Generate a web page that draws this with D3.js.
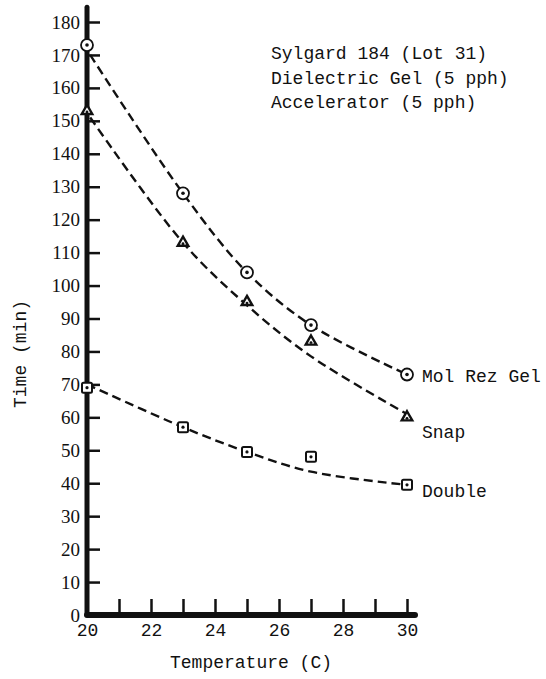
<!DOCTYPE html>
<html>
<head>
<meta charset="utf-8">
<script src="https://cdn.jsdelivr.net/npm/d3@7"></script>
<style>
  body { margin: 0; background: #fff; }
  text { fill: #111; }
</style>
</head>
<body>
<script>
// measured points
var temps = [20, 23, 25, 27, 30];
var molRez = [173, 128, 104, 88, 73];
var snap = [153, 113, 95, 83, 60];
var dbl = [69, 57, 49.5, 48, 39.5];

// hand-drawn fitted curves
var molRezCurveX = [20.1, 23, 25, 27, 30];
var molRezCurveY = [170, 128, 104, 88, 73];
var snapCurveX = [20.1, 23, 25, 27, 30];
var snapCurveY = [151, 113, 94, 78.5, 61];
var dblCurveX = [20, 23, 25, 27, 30];
var dblCurveY = [70, 57, 49.5, 43.5, 39.5];

var yTicks = d3.range(0, 181, 10);
var xTicks = d3.range(20, 31, 1);
var noteLines = ["Sylgard 184 (Lot 31)", "Dielectric Gel (5 pph)", "Accelerator (5 pph)"];

var mono = "'Liberation Mono', 'DejaVu Sans Mono', monospace";
var serif = "'Liberation Serif', 'DejaVu Serif', serif";

var svg = d3.select("body").append("svg")
  .attr("width", 546)
  .attr("height", 679);

var x = d3.scaleLinear().domain([20, 30]).range([87, 407]);
var y = d3.scaleLinear().domain([0, 180]).range([615, 22]);

// y axis ticks + labels
var yAxis = svg.append("g")
  .attr("transform", "translate(" + x(20) + ",0)")
  .call(d3.axisLeft(y).tickValues(yTicks).tickSizeInner(-13).tickSizeOuter(0).tickPadding(7));
yAxis.attr("font-family", serif).attr("font-size", 19);
yAxis.select(".domain").remove();
yAxis.selectAll(".tick line").attr("stroke", "#111").attr("stroke-width", 2.5);
yAxis.selectAll(".tick text").attr("fill", "#222");

// x axis ticks + labels
var xAxis = svg.append("g")
  .attr("transform", "translate(0," + y(0) + ")")
  .call(d3.axisBottom(x).tickValues(xTicks).tickSizeInner(-16).tickSizeOuter(0).tickPadding(8)
    .tickFormat(function(d) { return d % 2 === 0 ? d : ""; }));
xAxis.attr("font-family", mono).attr("font-size", 18);
xAxis.select(".domain").remove();
xAxis.selectAll(".tick line").attr("stroke", "#111").attr("stroke-width", 2.5);
xAxis.selectAll(".tick text").attr("fill", "#222");

// thick axis lines
svg.append("line")
  .attr("x1", x(20)).attr("x2", x(20))
  .attr("y1", y(184.5)).attr("y2", y(0))
  .attr("stroke", "#111").attr("stroke-width", 5).attr("stroke-linecap", "round");
svg.append("line")
  .attr("x1", x(20)).attr("x2", x(30.25))
  .attr("y1", y(0)).attr("y2", y(0))
  .attr("stroke", "#111").attr("stroke-width", 6).attr("stroke-linecap", "round");

// dashed curves
var line = d3.line()
  .x(function(d) { return x(d[0]); })
  .y(function(d) { return y(d[1]); })
  .curve(d3.curveCatmullRom);

function drawCurve(xs, ys) {
  svg.append("path")
    .datum(d3.zip(xs, ys))
    .attr("d", line)
    .attr("fill", "none")
    .attr("stroke", "#111")
    .attr("stroke-width", 2.4)
    .attr("stroke-dasharray", "9,5");
}
drawCurve(molRezCurveX, molRezCurveY);
drawCurve(snapCurveX, snapCurveY);
drawCurve(dblCurveX, dblCurveY);

// markers
function drawMarkers(vals, type) {
  var g = svg.append("g");
  var pts = g.selectAll("g").data(d3.zip(temps, vals)).enter().append("g")
    .attr("transform", function(d) { return "translate(" + x(d[0]) + "," + y(d[1]) + ")"; });
  if (type === "circle") {
    pts.append("circle").attr("r", 6).attr("fill", "#fff").attr("stroke", "#111").attr("stroke-width", 1.8);
    pts.append("circle").attr("r", 1.8).attr("fill", "#111");
  } else if (type === "triangle") {
    pts.append("path").attr("d", d3.symbol(d3.symbolTriangle, 48))
      .attr("fill", "#fff").attr("stroke", "#111").attr("stroke-width", 2.4);
    pts.append("circle").attr("r", 1.4).attr("cy", 1).attr("fill", "#111");
  } else {
    pts.append("rect").attr("x", -5).attr("y", -5).attr("width", 10).attr("height", 10).attr("rx", 1.5)
      .attr("fill", "#fff").attr("stroke", "#111").attr("stroke-width", 2);
    pts.append("circle").attr("r", 1.6).attr("fill", "#111");
  }
}
drawMarkers(molRez, "circle");
drawMarkers(snap, "triangle");
drawMarkers(dbl, "square");

// series labels
var labels = [
  { text: "Mol Rez Gel", v: molRez[4], dy: 7 },
  { text: "Snap", v: snap[4], dy: 21 },
  { text: "Double", v: dbl[4], dy: 12 }
];
svg.selectAll(".slabel").data(labels).enter().append("text")
  .attr("class", "slabel")
  .attr("x", x(30) + 15)
  .attr("y", function(d) { return y(d.v) + d.dy; })
  .style("font-family", mono)
  .style("font-size", "18px")
  .text(function(d) { return d.text; });

// note
svg.selectAll(".note").data(noteLines).enter().append("text")
  .attr("class", "note")
  .attr("x", 271)
  .attr("y", function(d, i) { return 59 + i * 24.5; })
  .style("font-family", mono)
  .style("font-size", "18px")
  .text(function(d) { return d; });

// axis titles
svg.append("text")
  .attr("x", (x(20) + x(30)) / 2 + 4)
  .attr("y", 668)
  .attr("text-anchor", "middle")
  .style("font-family", mono)
  .style("font-size", "18px")
  .text("Temperature (C)");

svg.append("text")
  .attr("transform", "translate(26,354) rotate(-90)")
  .attr("text-anchor", "middle")
  .style("font-family", mono)
  .style("font-size", "18px")
  .text("Time (min)");
</script>
</body>
</html>
